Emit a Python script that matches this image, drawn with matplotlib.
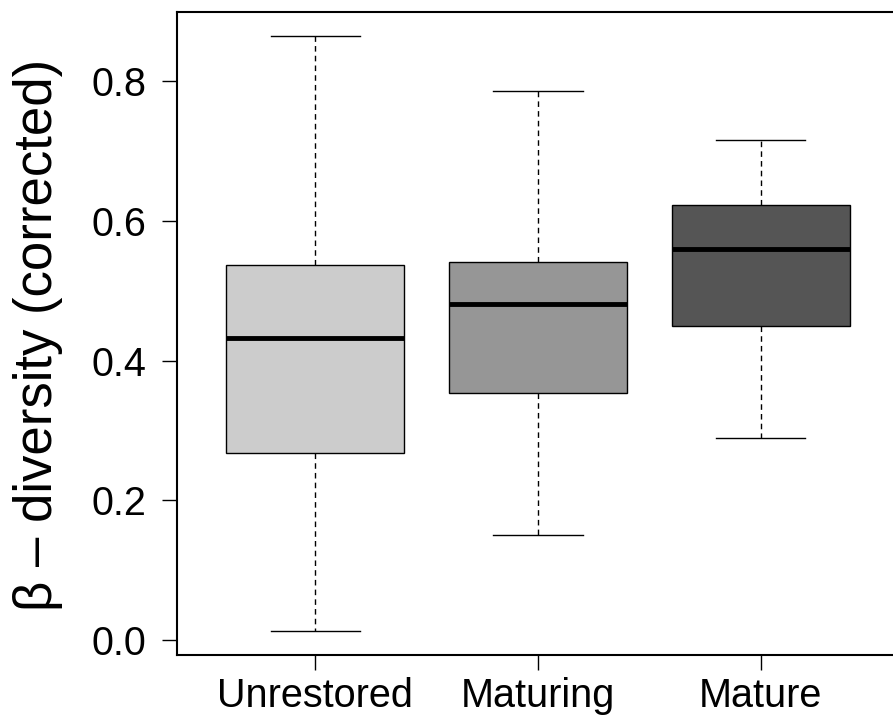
import matplotlib.pyplot as plt

plt.rcParams['font.family'] = ['Liberation Sans', 'DejaVu Sans']

# Valores (bigode inferior, Q1, mediana, Q3, bigode superior)
groups = ['Unrestored', 'Maturing', 'Mature']
whislo = [0.013, 0.150, 0.289]
q1 = [0.268, 0.353, 0.449]
med = [0.432, 0.481, 0.560]
q3 = [0.537, 0.541, 0.623]
whishi = [0.864, 0.786, 0.716]
colors = ['#cccccc', '#969696', '#555555']

stats = []
for i in range(len(groups)):
    stats.append({'label': groups[i], 'whislo': whislo[i], 'q1': q1[i],
                  'med': med[i], 'q3': q3[i], 'whishi': whishi[i], 'fliers': []})

fig = plt.figure(figsize=(8.93, 7.25), dpi=100)
ax = fig.add_axes([177 / 893, 70 / 725, (899 - 177) / 893, (655 - 12) / 725])

bp = ax.bxp(stats, positions=[1, 2, 3], widths=0.8, patch_artist=True,
            showfliers=False,
            boxprops=dict(linewidth=1.0, edgecolor='black'),
            medianprops=dict(color='black', linewidth=3.5),
            whiskerprops=dict(linestyle=(0, (4, 3)), linewidth=1.0, color='black'),
            capprops=dict(linewidth=1.0, color='black'),
            capwidths=0.4)
for patch, c in zip(bp['boxes'], colors):
    patch.set_facecolor(c)

ax.set_xlim(0.38, 3.62)
ax.set_ylim(-0.0215, 0.899)
ax.set_yticks([0.0, 0.2, 0.4, 0.6, 0.8])
ax.set_yticklabels(['0.0', '0.2', '0.4', '0.6', '0.8'])
ax.set_xticks([1, 2, 3])
ax.set_xticklabels(groups)
ax.tick_params(axis='both', labelsize=28.5, length=11, width=1.0, direction='out')
ax.tick_params(axis='x', pad=5)
ax.tick_params(axis='y', pad=11)
for s in ax.spines.values():
    s.set_linewidth(1.5)

fig.text(38 / 893, 1 - 335 / 725, 'β – diversity (corrected)', fontsize=38,
         rotation=90, ha='center', va='center')

fig.savefig('out.png', dpi=100)
